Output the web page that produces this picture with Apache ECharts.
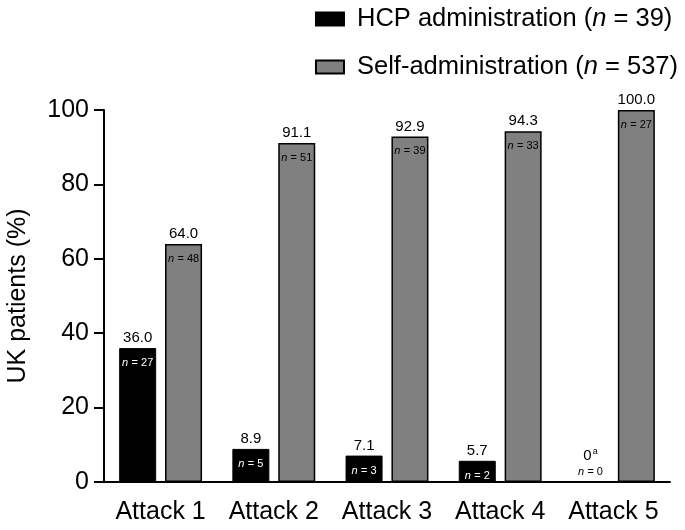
<!DOCTYPE html>
<html>
<head>
<meta charset="utf-8">
<script src="https://cdn.jsdelivr.net/npm/echarts@6/dist/echarts.min.js"></script>
<style>
  html, body { margin: 0; padding: 0; background: #fff; }
  #chart { width: 685px; height: 530px; }
</style>
</head>
<body>
<div id="chart"></div>
<script>
// 数据
var categories = ['Attack 1', 'Attack 2', 'Attack 3', 'Attack 4', 'Attack 5'];
var hcpValues = [36.0, 8.9, 7.1, 5.7, 0];
var hcpN = [27, 5, 3, 2, 0];
var selfValues = [64.0, 91.1, 92.9, 94.3, 100.0];
var selfN = [48, 51, 39, 33, 27];
var yTicks = [0, 20, 40, 60, 80, 100];

var font = '"Liberation Sans", Arial, sans-serif';
var chart = echarts.init(document.getElementById('chart'));

// 柱顶标签：数值 + 柱内 n
function makeLabel(nArr) {
  return function (p) {
    var n = nArr[p.dataIndex];
    if (p.value === 0) {
      return '{v|0}{sup|a}\n{nz|n} {mz|= ' + n + '}';
    }
    return '{v|' + p.value.toFixed(1) + '}\n{n|n} {m|= ' + n + '}';
  };
}

function richFor(nColor) {
  return {
    v: { fontSize: 15, color: '#000', fontFamily: font, lineHeight: 18 },
    sup: { fontSize: 9, color: '#000', fontFamily: font, lineHeight: 18, padding: [0, 0, 7, 1] },
    n: { fontSize: 11, color: nColor, fontFamily: font, fontStyle: 'italic', lineHeight: 32 },
    m: { fontSize: 11, color: nColor, fontFamily: font, lineHeight: 32 },
    nz: { fontSize: 11, color: '#000', fontFamily: font, fontStyle: 'italic', lineHeight: 14 },
    mz: { fontSize: 11, color: '#000', fontFamily: font, lineHeight: 14 }
  };
}

function buildData(values) {
  return values.map(function (v) {
    if (v === 0) return { value: v, label: { distance: 3 } };
    return v;
  });
}

var option = {
  animation: false,
  legend: {
    orient: 'vertical',
    right: 2,
    top: 1,
    itemWidth: 28,
    itemHeight: 13,
    itemGap: 22,
    icon: 'rect',
    textStyle: {
      fontSize: 25.5,
      color: '#000',
      fontFamily: font,
      padding: [0, 0, 0, 8],
      rich: {
        it: { fontSize: 25.5, fontStyle: 'italic', color: '#000', fontFamily: font }
      }
    },
    formatter: function (name) {
      if (name === 'HCP') return 'HCP administration ({it|n} = 39)';
      return 'Self-administration ({it|n} = 537)';
    },
    data: ['HCP', 'Self']
  },
  grid: { left: 104, right: 15, top: 110, bottom: 48, outerBoundsMode: 'none' },
  xAxis: {
    type: 'category',
    data: categories,
    axisLine: { lineStyle: { color: '#000', width: 2 } },
    axisTick: { alignWithLabel: true, interval: 0, length: 10, lineStyle: { color: '#000', width: 2 } },
    axisLabel: { interval: 0, fontSize: 25, color: '#000', fontFamily: font, margin: 18 }
  },
  yAxis: {
    type: 'value',
    min: yTicks[0],
    max: yTicks[yTicks.length - 1],
    interval: 20,
    name: 'UK patients (%)',
    nameLocation: 'middle',
    nameGap: 73,
    nameTextStyle: { fontSize: 25, color: '#000', fontFamily: font },
    splitLine: { show: false },
    axisLine: { show: true, lineStyle: { color: '#000', width: 2 } },
    axisTick: { show: true, length: 10, lineStyle: { color: '#000', width: 2 } },
    axisLabel: { fontSize: 25, color: '#000', fontFamily: font, margin: 15 }
  },
  series: [
    {
      name: 'HCP',
      type: 'bar',
      data: buildData(hcpValues),
      barWidth: 37,
      barGap: '24%',
      itemStyle: { color: '#000', borderColor: '#000', borderWidth: 1 },
      label: {
        show: true,
        position: 'top',
        distance: -31,
        formatter: makeLabel(hcpN),
        rich: richFor('#fff')
      }
    },
    {
      name: 'Self',
      type: 'bar',
      data: buildData(selfValues),
      barWidth: 37,
      itemStyle: { color: '#808080', borderColor: '#000', borderWidth: 1.5 },
      label: {
        show: true,
        position: 'top',
        distance: -31,
        formatter: makeLabel(selfN),
        rich: richFor('#000')
      }
    }
  ]
};

chart.setOption(option);
window.addEventListener('resize', chart.resize);
</script>
</body>
</html>
